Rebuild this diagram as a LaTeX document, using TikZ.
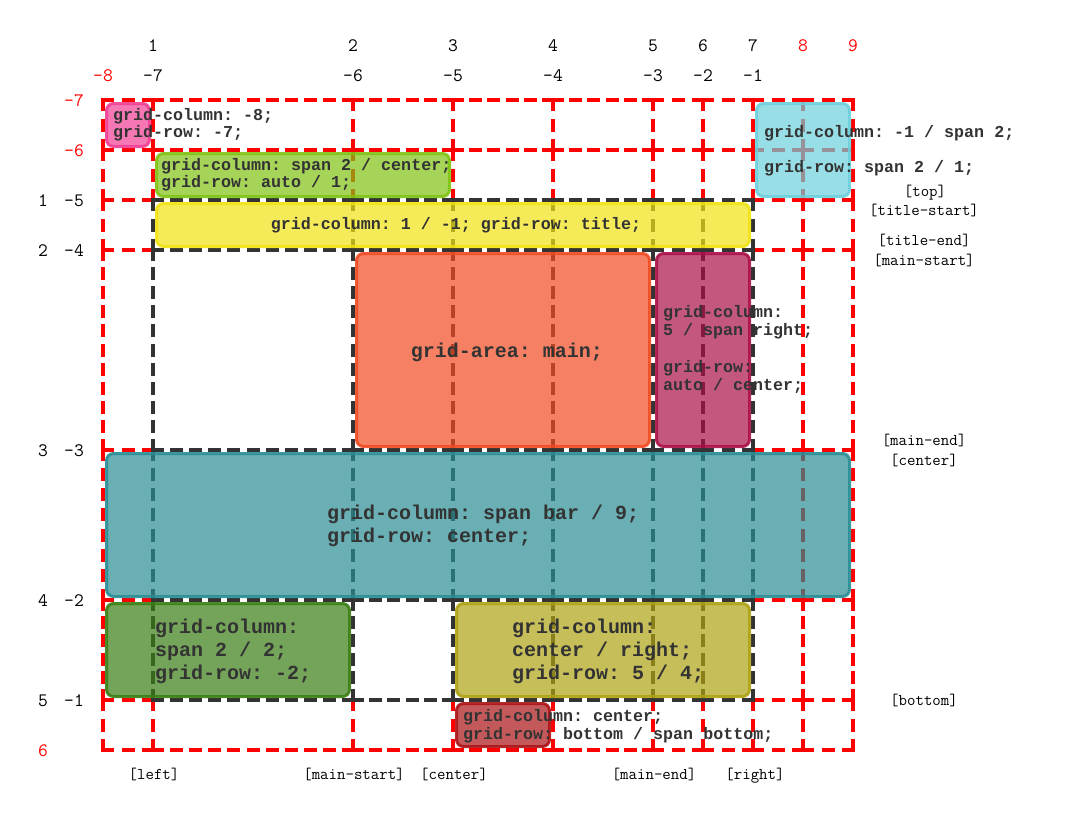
\documentclass[tikz,border=0pt]{standalone}
\usepackage{fontspec}
\newfontfamily\boxfont{Liberation Mono}
\definecolor{gred}{RGB}{255,0,0}
\definecolor{gblk}{RGB}{51,51,51}
\definecolor{cpink}{RGB}{241,62,148}
\definecolor{clgreen}{RGB}{128,194,19}
\definecolor{ccyan}{RGB}{108,208,219}
\definecolor{cyellow}{RGB}{241,226,19}
\definecolor{cmain}{RGB}{241,74,34}
\definecolor{cmag}{RGB}{171,15,72}
\definecolor{cteal}{RGB}{41,141,148}
\definecolor{cdgreen}{RGB}{57,126,19}
\definecolor{colive}{RGB}{174,162,19}
\definecolor{credbox}{RGB}{171,19,22}
\definecolor{ctext}{RGB}{51,51,51}
\newcommand\gridseg[5]{%
  \pgfmathsetmacro\gsL{abs(#4-#2)+abs(#5-#3)}%
  \pgfmathsetmacro\gsN{round((\gsL-8.5)/20)+1}%
  \pgfmathsetmacro\gsB{(\gsL-8.5)/(\gsN-1)-8.5}%
  \draw[gridline,draw=#1,dash pattern=on 8.5pt off \gsB pt] (#2,#3) -- (#4,#5);%
}
\begin{document}
\frenchspacing
\begin{tikzpicture}[x=1pt,y=-1pt,
  gridline/.style={line width=4.5pt,line cap=rect},
  box/.style={rectangle,rounded corners=7pt,line width=3pt,fill opacity=0.7,draw opacity=0.9,inner sep=0pt,outer sep=0pt},
  small/.style={font=\boxfont\bfseries\fontsize{16.67}{17}\selectfont\frenchspacing,text=ctext,inner sep=0pt,align=left},
  big/.style={font=\boxfont\bfseries\fontsize{20}{23}\selectfont\frenchspacing,text=ctext,inner sep=0pt,align=left},
  num/.style={font=\ttfamily\fontsize{19}{20}\selectfont,inner sep=0pt,text height=12.5pt,text depth=0pt},
  lbl/.style={font=\ttfamily\fontsize{16.4}{18}\selectfont\frenchspacing,inner sep=0pt,text height=11pt,text depth=3.5pt}]
\useasboundingbox (0,0) rectangle (1066,827);
% red (implicit) grid
\foreach \y in {100,150,200,250,450,600,700,750}
  \foreach \xa/\xb in {103/153,153/353,353/453,453/553,553/653,653/703,703/753,753/803,803/853}
    {\gridseg{gred}{\xa}{\y}{\xb}{\y}}
\foreach \x in {103,153,353,453,553,653,703,753,803,853}
  \foreach \ya/\yb in {100/150,150/200,200/250,250/450,450/600,600/700,700/750}
    {\gridseg{gred}{\x}{\ya}{\x}{\yb}}
% black (explicit) grid
\foreach \y in {200,250,450,600,700}
  \foreach \xa/\xb in {153/353,353/453,453/553,553/653,653/703,703/753}
    {\gridseg{gblk}{\xa}{\y}{\xb}{\y}}
\foreach \x in {153,353,453,553,653,703,753}
  \foreach \ya/\yb in {200/250,250/450,450/600,600/700}
    {\gridseg{gblk}{\x}{\ya}{\x}{\yb}}
% boxes
\node[box,draw=cpink,fill=cpink,minimum width=43,minimum height=43] (pinkbox) at (128,125) {};
\node[box,draw=clgreen,fill=clgreen,minimum width=293,minimum height=43] (lgreenbox) at (303,175) {};
\node[box,draw=ccyan,fill=ccyan,minimum width=93,minimum height=93] (cyanbox) at (803,150) {};
\node[box,draw=cyellow,fill=cyellow,minimum width=593,minimum height=43] (yellowbox) at (453,225) {};
\node[box,draw=cmain,fill=cmain,minimum width=293,minimum height=193] (mainbox) at (503,350) {};
\node[box,draw=cmag,fill=cmag,minimum width=93,minimum height=193] (magbox) at (703,350) {};
\node[box,draw=cteal,fill=cteal,minimum width=743,minimum height=143] (tealbox) at (478,525) {};
\node[box,draw=cdgreen,fill=cdgreen,minimum width=243,minimum height=93] (dgreenbox) at (228,650) {};
\node[box,draw=colive,fill=colive,minimum width=293,minimum height=93] (olivebox) at (603,650) {};
\node[box,draw=credbox,fill=credbox,minimum width=93,minimum height=43] (redbox) at (503,725) {};
% box texts
\node[small,anchor=west] (pinkt) at (113,124.5) {grid-column: -8;\\grid-row: -7;};
\node[small,anchor=west] (lgreent) at (161,174.5) {grid-column: span 2 / center;\\grid-row: auto / 1;};
\node[small,anchor=west] (cyant1) at (764,133) {grid-column: -1 / span 2;};
\node[small,anchor=west] (cyant2) at (764,168) {grid-row: span 2 / 1;};
\node[small] (yellowt) at (456,225) {grid-column: 1 / -1; grid-row: title;};
\node[big] (maint) at (507,352) {grid-area: main;};
\node[small,anchor=west,font=\boxfont\bfseries\fontsize{16.67}{18.3}\selectfont\frenchspacing] (magt) at (663,349.5) {grid-column:\\5 / span right;\\[18.3pt]grid-row:\\auto / center;};
\node[big,anchor=west] (tealt) at (327,525.5) {grid-column: span bar / 9;\\grid-row: center;};
\node[big,anchor=west] (dgreent) at (155,651) {grid-column:\\span 2 / 2;\\grid-row: -2;};
\node[big,anchor=west] (olivet) at (512,651) {grid-column:\\center / right;\\grid-row: 5 / 4;};
\node[small,anchor=west,font=\boxfont\bfseries\fontsize{16.67}{18}\selectfont\frenchspacing] (redt) at (463,726) {grid-column: center;\\grid-row: bottom / span bottom;};
% top numbers
\node[num] (c1) at (153,45) {1};
\node[num] (c2) at (353,45) {2};
\node[num] (c3) at (453,45) {3};
\node[num] (c4) at (553,45) {4};
\node[num] (c5) at (653,45) {5};
\node[num] (c6) at (703,45) {6};
\node[num] (c7) at (753,45) {7};
\node[num,text=gred] (c8) at (803,45) {8};
\node[num,text=gred] (c9) at (853,45) {9};
\node[num,text=gred] (cm8) at (103,75) {-8};
\node[num] (cm7) at (153,75) {-7};
\node[num] (cm6) at (353,75) {-6};
\node[num] (cm5) at (453,75) {-5};
\node[num] (cm4) at (553,75) {-4};
\node[num] (cm3) at (653,75) {-3};
\node[num] (cm2) at (703,75) {-2};
\node[num] (cm1) at (753,75) {-1};
% left numbers
\node[num,text=gred] (rm7) at (74,100) {-7};
\node[num,text=gred] (rm6) at (74,150) {-6};
\node[num] (r1) at (43,200) {1};
\node[num] (rm5) at (74,200) {-5};
\node[num] (r2) at (43,250) {2};
\node[num] (rm4) at (74,250) {-4};
\node[num] (r3) at (43,450) {3};
\node[num] (rm3) at (74,450) {-3};
\node[num] (r4) at (43,600) {4};
\node[num] (rm2) at (74,600) {-2};
\node[num] (r5) at (43,700) {5};
\node[num] (rm1) at (74,700) {-1};
\node[num,text=gred] (r6) at (43,750) {6};
% right labels
\node[lbl] (ltop) at (925,192.5) {[top]};
\node[lbl] (ltitles) at (924,212) {[title-start]};
\node[lbl] (ltitlee) at (924,242) {[title-end]};
\node[lbl] (lmains) at (924,262) {[main-start]};
\node[lbl] (lmaine) at (924,442) {[main-end]};
\node[lbl] (lcenter) at (924,462) {[center]};
\node[lbl] (lbottom) at (924,702) {[bottom]};
% bottom labels
\node[lbl] (bleft) at (154,776) {[left]};
\node[lbl] (bmains) at (354,776) {[main-start]};
\node[lbl] (bcenter) at (454,776) {[center]};
\node[lbl] (bmaine) at (654,776) {[main-end]};
\node[lbl] (bright) at (755,776) {[right]};
\end{tikzpicture}
\end{document}
